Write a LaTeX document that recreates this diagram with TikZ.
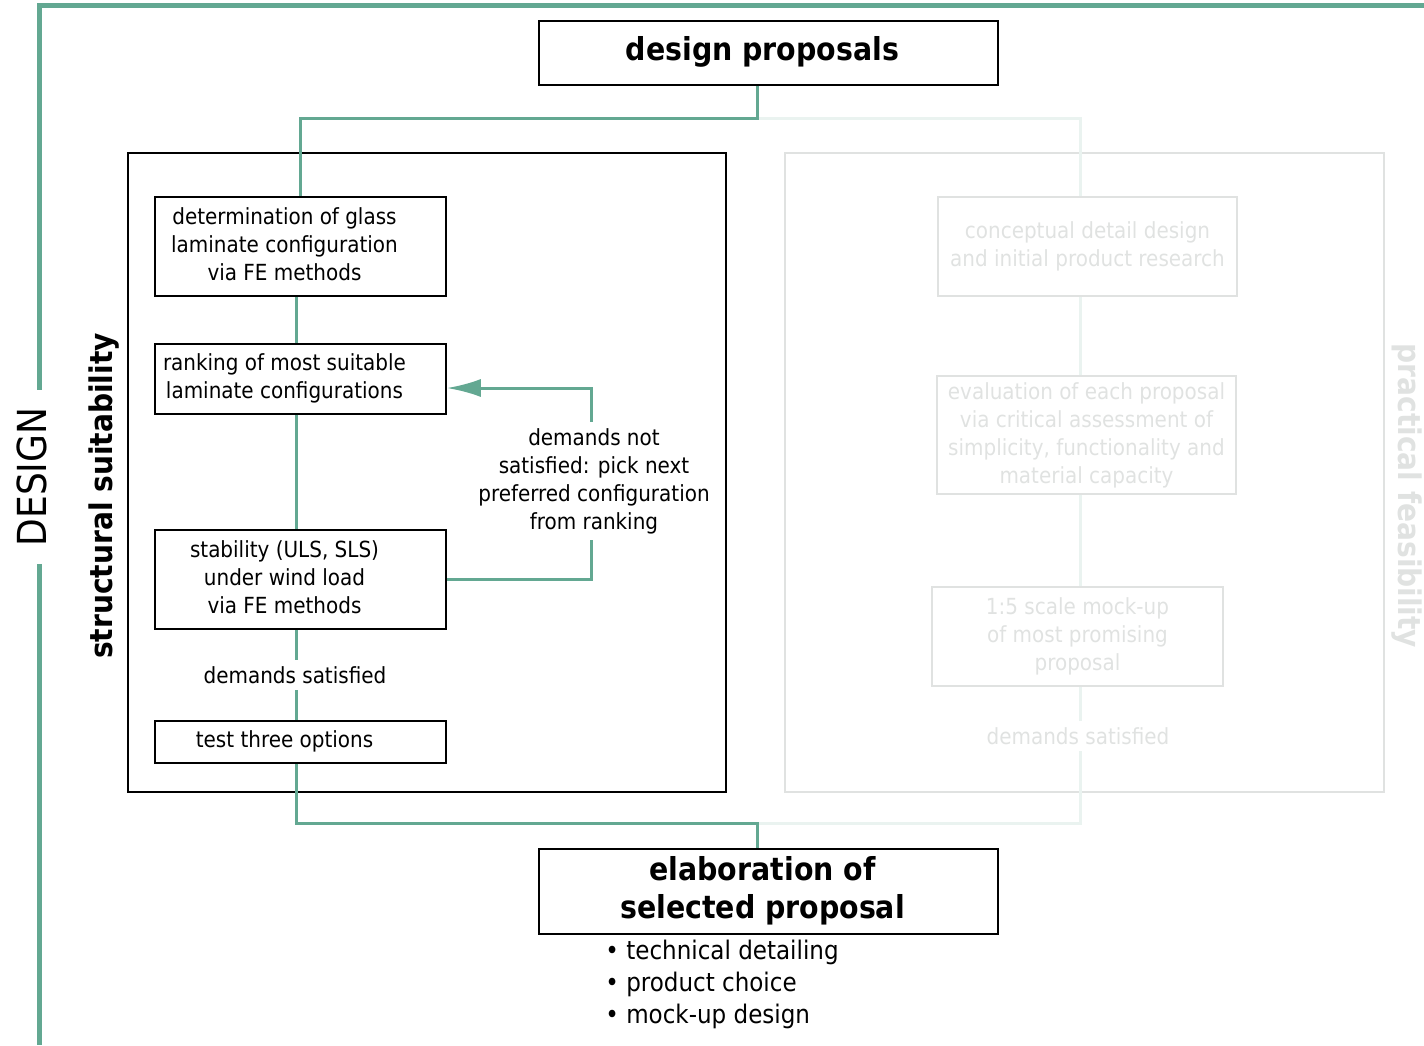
\documentclass[tikz,border=0pt]{standalone}
\usepackage{fontspec}
\setmainfont{DejaVu Sans Condensed}
\usetikzlibrary{positioning}
\usetikzlibrary{arrows.meta}

\definecolor{flowgreen}{RGB}{99,168,146}
\definecolor{fadeline}{RGB}{234,243,240}
\definecolor{fadetext}{RGB}{224,226,225}
\newcommand{\boxtext}[2][16pt]{\begin{tabular}{@{}c@{}}#2\end{tabular}\rule{#1}{0pt}}

\begin{document}
\begin{tikzpicture}[x=0.5pt,y=-0.5pt,
		box/.style={draw,line width=0.75pt,inner sep=0pt,font=\fontsize{11.1}{14}\selectfont},
		fadebox/.style={box,draw=fadetext,text=fadetext,align=center},
		headbox/.style={box,minimum width=229.5pt,font=\fontsize{15.8}{19}\selectfont\bfseries},
		note/.style={inner xsep=0pt,inner ysep=3pt,align=center,font=\fontsize{11.1}{14}\selectfont},
		flow/.style={draw=flowgreen,line width=1.5pt},
		fadeflow/.style={draw=fadeline,line width=1.5pt}]
		\useasboundingbox (0,0) rectangle (1424,1045);
		\coordinate (spine) at (296,0);
		\coordinate (fade) at (1080,0);
		\coordinate (split) at (757,118);
		\coordinate (join) at (757,823);
		\coordinate (topend) at (1424,5);
		\coordinate (botend) at (39,1045);
		\coordinate (dcorner) at (39,5);

		% frames
		\draw[line width=0.75pt] (128,153) rectangle (726,792);
		\draw[fadetext,line width=0.75pt] (785,153) rectangle (1384,792);

		% outer design bracket
		\node[rotate=90,inner xsep=8.5pt,inner ysep=0pt,font=\fontsize{20}{22}\selectfont] (dlabel) at (32,477) {DESIGN};
		\node[rotate=90,inner sep=0pt,font=\fontsize{15.6}{17}\selectfont\bfseries] (sslabel) at (104,496) {structural suitability};
		\node[rotate=270,inner sep=0pt,text=fadetext,font=\fontsize{15.6}{17}\selectfont\bfseries] (pflabel) at (1407,496) {practical feasibility};
		\draw[flowgreen,line width=2.5pt] (topend) -- (dcorner) -- (dlabel.east -| dcorner);
		\draw[flowgreen,line width=2.5pt] (dlabel.west -| dcorner) -- (botend);

		% main column
		\node[headbox,minimum height=32pt] (prop) at (768.5,53) {\boxtext[6pt]{design proposals}};
		\node[box,minimum width=145.5pt,minimum height=49.5pt] (b1) at (300.5,246.5) {\boxtext{determination of glass\\laminate configuration\\via FE methods}};
		\node[box,minimum width=145.5pt,minimum height=35pt] (b2) at (300.5,379) {\boxtext{ranking of most suitable\\laminate configurations}};
		\node[box,minimum width=145.5pt,minimum height=49.5pt] (b3) at (300.5,579.5) {\boxtext{stability (ULS, SLS)\\under wind load\\via FE methods}};
		\node[note] (ds) at (295,675) {demands satisfied};
		\node[box,minimum width=145.5pt,minimum height=21pt] (b4) at (300.5,742) {\boxtext{test three options}};
		\node[note] (nsat) at (594,481) {demands not\\satisfied: pick next\\preferred configuration\\from ranking};
		\node[headbox,minimum height=42.5pt] (elab) at (768.5,891.5) {\boxtext[6pt]{elaboration of\\selected proposal}};
		\node[anchor=north west,inner sep=0pt,align=left,font=\fontsize{12.8}{16}\selectfont] (items) at (605,940) {\textbullet\ technical detailing\\\textbullet\ product choice\\\textbullet\ mock-up design};

		% faded column
		\node[fadebox,minimum width=149.5pt,minimum height=49.5pt] (c1) at (1087.5,246.5) {conceptual detail design\\and initial product research};
		\node[fadebox,minimum width=149.5pt,minimum height=59pt] (c2) at (1086.5,435) {evaluation of each proposal\\via critical assessment of\\simplicity, functionality and\\material capacity};
		\node[fadebox,minimum width=145.5pt,minimum height=49.5pt] (c3) at (1077.5,636.5) {1:5 scale mock-up\\of most promising\\proposal};
		\node[note,text=fadetext] (ds2) at (1078,736) {demands satisfied};
		\draw[fadeflow] (split) -| (c1.north -| fade);
		\draw[fadeflow] (c1.south -| fade) -- (c2.north -| fade);
		\draw[fadeflow] (c2.south -| fade) -- (c3.north -| fade);
		\draw[fadeflow] (c3.south -| fade) -- (ds2.north -| fade);
		\draw[fadeflow] (ds2.south -| fade) |- (join);

		% connectors
		\draw[flow] (prop.south -| split) -- (split) -| (b1.north);
		\draw[flow] (b1.south -| spine) -- (b2.north -| spine);
		\draw[flow] (b2.south -| spine) -- (b3.north -| spine);
		\draw[flow] (b3.south -| spine) -- (ds.north -| spine);
		\draw[flow] (ds.south -| spine) -- (b4.north -| spine);
		\draw[flow] (b4.south -| spine) |- (join) -- (elab.north -| join);
		\draw[flow] (b3.east) -| (nsat.south -| 591,0);
		\draw[flow,-{Latex[length=17pt,width=9pt]}] (nsat.north -| 591,0) |- ([yshift=-4.5pt]b2.east);
	\end{tikzpicture}
\end{document}
